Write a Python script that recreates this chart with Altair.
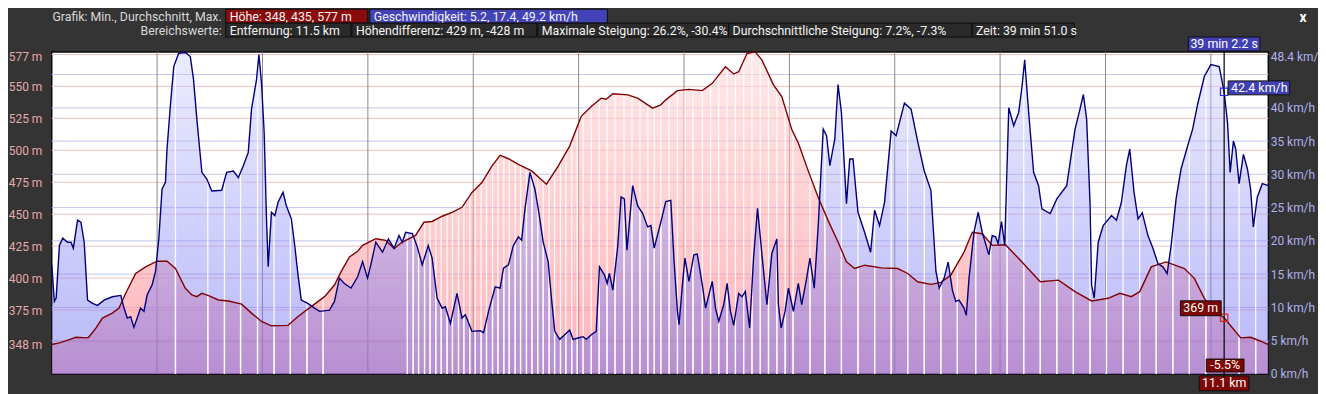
import altair as alt
import numpy as np
import pandas as pd

# ---------------- data ----------------
elev_km = [0.0, 0.073, 0.167, 0.230, 0.325, 0.349, 0.419, 0.481, 0.575, 0.639,
           0.702, 0.796, 0.891, 1.000, 1.094, 1.174, 1.268, 1.330, 1.377, 1.425,
           1.488, 1.582, 1.677, 1.802, 1.896, 1.991, 2.085, 2.242, 2.337, 2.462,
           2.589, 2.683, 2.745, 2.825, 2.903, 2.950, 3.075, 3.170, 3.249, 3.327,
           3.453, 3.532, 3.610, 3.705, 3.799, 3.893, 3.988, 4.082, 4.177, 4.255,
           4.334, 4.428, 4.554, 4.695, 4.806, 4.915, 5.025, 5.120, 5.214, 5.261,
           5.325, 5.466, 5.560, 5.702, 5.780, 5.827, 5.938, 6.047, 6.174, 6.268,
           6.393, 6.472, 6.519, 6.598, 6.676, 6.740, 6.849, 6.928, 7.023, 7.085,
           7.179, 7.274, 7.368, 7.462, 7.542, 7.620, 7.714, 7.872, 8.028, 8.123,
           8.217, 8.343, 8.438, 8.532, 8.658, 8.736, 8.830, 8.925, 9.051, 9.176,
           9.381, 9.554, 9.711, 9.868, 10.025, 10.136, 10.245, 10.325, 10.434, 10.575,
           10.749, 10.843, 10.938, 11.032, 11.126, 11.205, 11.283, 11.377, 11.472, 11.545]
elev_m = [348, 349.3, 351.9, 353.7, 353.2, 353.5, 360.9, 368.7, 372.6, 376.5,
          388.1, 403.6, 408.8, 413.2, 413.2, 407.5, 392, 386.8, 385.5, 388.1,
          386.3, 382.9, 382.1, 379.6, 372.6, 366.1, 362.7, 363, 370, 377.7,
          385.5, 394.6, 404.9, 416.5, 421, 425.6, 430.8, 429.5, 423.1, 428.2,
          433.4, 443.7, 444.3, 448.4, 451.5, 455.4, 467, 474.8, 487.7, 496,
          493.4, 489, 483.9, 473.5, 487.7, 503.3, 526.6, 534.3, 540.8, 540,
          544.2, 543.4, 540.8, 533, 535.6, 539.5, 546.7, 547.7, 546.7, 552.4,
          565.4, 559.7, 561.5, 575.7, 577, 570.6, 551.2, 542.1, 516.2, 505.8,
          483.9, 463.1, 445, 428.2, 412.7, 407.5, 410.1, 408, 407.5, 403.6,
          397.1, 395.1, 396.7, 402.3, 420.4, 435.9, 434.7, 425.6, 426.1, 415.3,
          397.1, 398.4, 389.4, 382.1, 384.2, 388.1, 385.5, 389.4, 408.8, 412.7,
          407.5, 399.8, 384.2, 373.8, 369, 361, 353.2, 353.7, 350.6, 348]

spd_km = [0.000, 0.025, 0.042, 0.073, 0.104, 0.151, 0.183, 0.205, 0.245, 0.277,
          0.308, 0.340, 0.387, 0.434, 0.497, 0.575, 0.655, 0.686, 0.717, 0.749,
          0.780, 0.811, 0.843, 0.875, 0.906, 0.953, 0.985, 1.016, 1.047, 1.079,
          1.094, 1.126, 1.158, 1.205, 1.268, 1.315, 1.346, 1.377, 1.425, 1.472,
          1.519, 1.613, 1.660, 1.724, 1.771, 1.818, 1.865, 1.896, 1.943, 1.966,
          1.991, 2.016, 2.038, 2.054, 2.085, 2.117, 2.148, 2.195, 2.226, 2.274,
          2.306, 2.337, 2.368, 2.431, 2.494, 2.542, 2.636, 2.683, 2.730, 2.777,
          2.840, 2.903, 2.950, 2.997, 3.028, 3.075, 3.139, 3.195, 3.249, 3.296,
          3.327, 3.358, 3.422, 3.469, 3.516, 3.573, 3.610, 3.657, 3.705, 3.736,
          3.783, 3.846, 3.893, 3.925, 3.988, 4.066, 4.098, 4.145, 4.208, 4.255,
          4.287, 4.334, 4.381, 4.428, 4.459, 4.491, 4.538, 4.585, 4.617, 4.664,
          4.711, 4.742, 4.774, 4.821, 4.868, 4.915, 4.947, 4.994, 5.042, 5.073,
          5.120, 5.167, 5.198, 5.245, 5.271, 5.292, 5.325, 5.372, 5.403, 5.434,
          5.459, 5.513, 5.560, 5.608, 5.655, 5.686, 5.717, 5.780, 5.827, 5.875,
          5.906, 5.938, 5.953, 5.985, 6.009, 6.047, 6.094, 6.126, 6.174, 6.205,
          6.268, 6.299, 6.330, 6.377, 6.409, 6.441, 6.472, 6.519, 6.551, 6.582,
          6.623, 6.660, 6.698, 6.740, 6.787, 6.834, 6.881, 6.896, 6.922, 6.959,
          6.991, 7.038, 7.085, 7.117, 7.164, 7.195, 7.236, 7.274, 7.321, 7.353,
          7.384, 7.431, 7.462, 7.494, 7.542, 7.573, 7.604, 7.651, 7.714, 7.771,
          7.809, 7.856, 7.903, 7.966, 8.013, 8.092, 8.155, 8.217, 8.280, 8.343,
          8.391, 8.422, 8.469, 8.507, 8.547, 8.579, 8.610, 8.658, 8.679, 8.705,
          8.752, 8.792, 8.830, 8.893, 8.925, 8.957, 8.981, 9.013, 9.044, 9.082,
          9.129, 9.176, 9.208, 9.233, 9.271, 9.318, 9.365, 9.396, 9.475, 9.538,
          9.632, 9.711, 9.758, 9.790, 9.821, 9.853, 9.868, 9.893, 9.931, 9.978,
          10.057, 10.104, 10.151, 10.198, 10.230, 10.271, 10.309, 10.349, 10.403, 10.450,
          10.497, 10.544, 10.585, 10.623, 10.670, 10.717, 10.780, 10.827, 10.874, 10.938,
          11.000, 11.079, 11.126, 11.158, 11.183, 11.214, 11.236, 11.268, 11.309, 11.347,
          11.377, 11.403, 11.441, 11.488, 11.545]
spd_kmh = [16.4, 10.9, 11.4, 19.3, 20.4, 19.8, 19.8, 18.9, 23.1, 22.8,
           19.8, 11.1, 10.6, 10.3, 11.1, 11.6, 11.8, 9.9, 8.4, 8.6,
           7.0, 8.4, 9.9, 9.4, 11.9, 13.4, 15.4, 20.3, 27.8, 28.8,
           33.8, 40.3, 46.2, 48.2, 48.3, 47.7, 44.2, 38.3, 30.3, 29.3,
           27.5, 27.6, 30.3, 30.5, 29.5, 31.3, 33.3, 39.8, 44.2, 48.0,
           43.7, 36.3, 23.3, 16.1, 24.3, 23.8, 25.8, 27.3, 25.3, 23.3,
           19.3, 14.9, 11.1, 10.6, 9.9, 9.4, 9.6, 10.9, 14.4, 13.6,
           12.9, 14.6, 16.9, 14.4, 16.4, 19.8, 18.3, 20.3, 18.9, 20.8,
           19.8, 21.3, 21.1, 19.1, 16.4, 19.3, 17.4, 11.4, 9.9, 10.1,
           7.6, 12.1, 8.4, 8.9, 6.4, 6.5, 6.2, 9.4, 13.1, 12.9,
           15.9, 16.4, 19.3, 20.6, 20.1, 24.8, 30.3, 27.8, 24.8, 19.8,
           16.9, 11.4, 6.4, 5.2, 5.9, 6.6, 5.2, 5.4, 5.6, 5.2,
           5.9, 6.4, 16.1, 14.9, 13.6, 15.1, 12.6, 19.3, 26.6, 26.3,
           18.6, 28.3, 25.3, 24.1, 22.1, 22.3, 18.9, 22.8, 25.9, 26.1,
           16.9, 9.4, 7.4, 13.4, 17.4, 13.9, 17.9, 18.0, 13.4, 9.9,
           13.9, 9.9, 7.9, 10.4, 13.6, 9.4, 7.3, 12.1, 11.6, 12.4,
           6.9, 17.4, 24.9, 17.9, 10.4, 18.1, 20.3, 10.4, 6.9, 9.4,
           12.9, 9.4, 13.6, 10.4, 14.4, 17.4, 12.9, 22.3, 36.8, 35.8,
           31.3, 35.3, 43.5, 39.3, 25.6, 32.3, 32.3, 24.3, 21.3, 18.3,
           24.6, 22.3, 25.8, 36.5, 35.8, 40.7, 39.8, 35.0, 30.5, 27.6,
           15.4, 12.9, 14.4, 16.8, 12.6, 10.9, 11.1, 9.9, 8.8, 14.4,
           21.3, 24.3, 21.3, 17.9, 20.8, 20.6, 19.6, 22.9, 19.3, 40.0,
           37.3, 39.3, 43.2, 47.2, 39.3, 30.3, 28.3, 24.8, 24.1, 26.3,
           28.3, 36.8, 39.8, 42.0, 38.3, 25.8, 13.4, 11.4, 19.8, 22.3,
           23.8, 23.1, 25.8, 31.3, 33.8, 27.3, 23.3, 24.2, 20.8, 18.9,
           16.6, 16.1, 15.1, 19.3, 26.3, 30.8, 34.3, 36.8, 40.5, 44.7,
           46.5, 46.2, 42.4, 37.8, 30.3, 35.0, 33.8, 28.6, 33.0, 30.8,
           27.8, 22.1, 26.6, 28.6, 28.3]

# segment boundaries (white stripes)
white_km = [1.174, 1.481, 1.639, 1.792, 1.953, 2.110, 2.264, 2.422, 2.575,
            3.375, 3.430, 3.481, 3.538, 3.590, 3.645, 3.696, 3.752, 3.803, 3.860,
            3.911, 3.967, 4.019, 4.075, 4.126, 4.183, 4.234, 4.290, 4.341, 4.398,
            4.449, 4.505, 4.557, 4.612, 4.664, 4.720, 4.772, 4.828, 4.879, 4.935,
            4.987, 5.043,
            5.120, 5.195, 5.270, 5.346, 5.431, 5.506, 5.582, 5.657, 5.718, 5.780,
            5.859, 5.938, 6.011, 6.085, 6.174, 6.252, 6.330, 6.409, 6.488, 6.566,
            6.645, 6.724, 6.802, 6.881, 6.960, 7.035,
            7.196, 7.337, 7.494, 7.651, 7.809, 7.966, 8.123, 8.280, 8.438, 8.594,
            8.768, 8.910, 9.066, 9.224, 9.381, 9.538, 9.695, 9.853, 10.009, 10.167,
            10.325, 10.481, 10.639, 10.796, 10.953, 11.268, 11.425]

km_grid = [1, 2, 3, 4, 5, 6, 7, 8, 9, 10, 11]
km_ticks = [1, 2, 3, 4, 5, 6, 7, 8, 9, 10]
elev_grid = [350, 375, 400, 425, 450, 475, 500, 525, 550, 575]
elev_ticks = [348, 375, 400, 425, 450, 475, 500, 525, 550, 577]
spd_grid = [5, 10, 15, 20, 25, 30, 35, 40, 45]
spd_ticks = [0, 5, 10, 15, 20, 25, 30, 35, 40, 48.4]

cursor_km = 11.126
cursor_spd = 42.4
cursor_elev = 369
cursor_time = "39 min 2.2 s"
cursor_spd_txt = "42.4 km/h"
cursor_elev_txt = "369 m"
cursor_grad_txt = "-5.5%"
cursor_km_txt = "11.1 km"

hdr1_label = "Grafik: Min., Durchschnitt, Max."
hdr1_boxes = ["Höhe: 348, 435, 577 m", "Geschwindigkeit: 5.2, 17.4, 49.2 km/h"]
hdr2_label = "Bereichswerte:"
hdr2_boxes = ["Entfernung: 11.5 km", "Höhendifferenz: 429 m, -428 m",
              "Maximale Steigung: 26.2%, -30.4%",
              "Durchschnittliche Steigung: 7.2%, -7.3%", "Zeit: 39 min 51.0 s"]

# ---------------- chart ----------------
W, H = 1224, 324
FONT = "Roboto"
ELEV_MIN, ELEV_MAX = 325, 577
xs = alt.Scale(domain=[0, 11.545], nice=False, zero=False)
es = alt.Scale(domain=[ELEV_MIN, ELEV_MAX], nice=False, zero=False)
ss = alt.Scale(domain=[0, 48.4], nice=False, zero=False)

elev_df = pd.DataFrame({"km": elev_km, "elev": elev_m})
elev_df["base"] = ELEV_MIN
spd_df = pd.DataFrame({"km": spd_km, "spd": spd_kmh})
spd_df["base"] = 0
white_df = pd.DataFrame({
    "km": white_km,
    "elev": np.interp(white_km, elev_km, elev_m),
    "spd": np.interp(white_km, spd_km, spd_kmh),
})
cur_df = pd.DataFrame({"km": [cursor_km], "spd": [cursor_spd], "elev": [cursor_elev]})

X = alt.X("km:Q", scale=xs, axis=None)

x_axis = alt.Axis(values=km_ticks, labelExpr="datum.value + ' km'", ticks=False,
                  domain=False, grid=False, title=None, labelColor="#c8c8c8",
                  labelFont=FONT, labelFontSize=12, labelPadding=4,
                  labelOverlap=False, labelFlush=False)
left_axis = alt.Axis(orient="left", values=elev_ticks, labelExpr="datum.value + ' m'",
                     ticks=False, domain=False, grid=False, title=None,
                     labelColor="#e6a9a9", labelFont=FONT, labelFontSize=12,
                     labelPadding=10, labelOverlap=False, labelFlush=False,
                     labelBaseline={"condition": {"test": "datum.value >= 577", "value": "top"},
                                    "value": "middle"})
right_axis = alt.Axis(orient="right", values=spd_ticks, labelExpr="datum.value + ' km/h'",
                      ticks=False, domain=False, grid=False, title=None,
                      labelColor="#b0b0ea", labelFont=FONT, labelFontSize=12,
                      labelPadding=2, labelOverlap=False, labelFlush=False,
                      labelBaseline={"condition": {"test": "datum.value >= 48", "value": "top"},
                                     "value": "middle"})

pink_grad = alt.LinearGradient(gradient="linear", x1=0, y1=0, x2=0, y2=1,
                               stops=[alt.GradientStop(color="#ffd8d8", offset=0),
                                      alt.GradientStop(color="#ff7680", offset=1)])
blue_grad = alt.LinearGradient(gradient="linear", x1=0, y1=0, x2=0, y2=1,
                               stops=[alt.GradientStop(color="#d5d5ff", offset=0),
                                      alt.GradientStop(color="#6161ef", offset=1)])

layers = []
# horizontal grid
layers.append(alt.Chart(pd.DataFrame({"v": elev_grid})).mark_rule(color="#f2c0c0", strokeWidth=1)
              .encode(y=alt.Y("v:Q", scale=es, axis=None), x=alt.value(0), x2=alt.value(W)))
layers.append(alt.Chart(pd.DataFrame({"v": spd_grid})).mark_rule(color="#c4c4f0", strokeWidth=1)
              .encode(y=alt.Y("v:Q", scale=ss, axis=None), x=alt.value(0), x2=alt.value(W)))
# vertical km grid (with the x axis)
layers.append(alt.Chart(pd.DataFrame({"km": km_grid})).mark_rule(color="#8a8a8a", strokeWidth=1)
              .encode(x=alt.X("km:Q", scale=xs, axis=x_axis)))
# areas
layers.append(alt.Chart(elev_df).mark_area(fill=pink_grad, fillOpacity=0.55, clip=True)
              .encode(x=X, y=alt.Y("elev:Q", scale=es, axis=left_axis), y2=alt.Y2("base")))
layers.append(alt.Chart(spd_df).mark_area(fill=blue_grad, fillOpacity=0.45, clip=True)
              .encode(x=X, y=alt.Y("spd:Q", scale=ss, axis=right_axis), y2=alt.Y2("base")))
# white segment stripes
layers.append(alt.Chart(white_df).mark_rule(color="white", strokeWidth=1.3, opacity=0.9)
              .encode(x=X, y=alt.Y("elev:Q", scale=es, axis=None), y2=alt.value(H)))
layers.append(alt.Chart(white_df).mark_rule(color="white", strokeWidth=1.3, opacity=0.9)
              .encode(x=X, y=alt.Y("spd:Q", scale=ss, axis=None), y2=alt.value(H)))
# lines
layers.append(alt.Chart(elev_df).mark_line(color="#800000", strokeWidth=1.4)
              .encode(x=X, y=alt.Y("elev:Q", scale=es, axis=None)))
layers.append(alt.Chart(spd_df).mark_line(color="#00007a", strokeWidth=1.4)
              .encode(x=X, y=alt.Y("spd:Q", scale=ss, axis=None)))
# cursor
layers.append(alt.Chart(cur_df).mark_rule(color="#000000", strokeWidth=1.2)
              .encode(x=X, y=alt.value(-2), y2=alt.value(H + 3)))
layers.append(alt.Chart(cur_df).mark_point(shape="square", filled=False, size=55,
                                           strokeWidth=1.2, color="#2a2ad8", opacity=1)
              .encode(x=X, y=alt.Y("spd:Q", scale=ss, axis=None)))
layers.append(alt.Chart(cur_df).mark_point(shape="square", filled=False, size=55,
                                           strokeWidth=1.2, color="#e02020", opacity=1)
              .encode(x=X, y=alt.Y("elev:Q", scale=es, axis=None)))

BLUE = "#4040b4"
RED = "#7e0606"
BOX_FS = 12.5


def cursor_box(text, x_off0, x_off1, fill, y=None, y2=None, ych=None, yo0=0, yo1=0, tdx=0, align="center"):
    df = pd.DataFrame({"km": [cursor_km], "spd": [cursor_spd], "elev": [cursor_elev], "t": [text]})
    base = alt.Chart(df)
    if ych is None:
        rect = base.mark_rect(fill=fill, stroke="#101010", strokeWidth=1,
                              xOffset=x_off0, x2Offset=x_off1).encode(
            x=X, x2=alt.X2("km"), y=alt.value(y), y2=alt.value(y2))
        txt = base.mark_text(font=FONT, fontSize=BOX_FS, color="#ffffff", align=align,
                             baseline="middle", dx=tdx).encode(
            x=X, y=alt.value((y + y2) / 2), text="t:N")
    else:
        field, sc = ych
        rect = base.mark_rect(fill=fill, stroke="#101010", strokeWidth=1,
                              xOffset=x_off0, x2Offset=x_off1,
                              yOffset=yo0, y2Offset=yo1).encode(
            x=X, x2=alt.X2("km"), y=alt.Y(f"{field}:Q", scale=sc, axis=None),
            y2=alt.Y2(field))
        txt = base.mark_text(font=FONT, fontSize=BOX_FS, color="#ffffff", align=align,
                             baseline="middle", dx=tdx, dy=(yo0 + yo1) / 2).encode(
            x=X, y=alt.Y(f"{field}:Q", scale=sc, axis=None), text="t:N")
    return [rect, txt]


layers += cursor_box(cursor_time, -36, 36, BLUE, y=-15, y2=-1)
layers += cursor_box(cursor_spd_txt, 4, 66, BLUE, ych=("spd", ss), yo0=-11, yo1=3, tdx=7, align="left")
layers += cursor_box(cursor_elev_txt, -44, -3, RED, ych=("elev", es), yo0=-17, yo1=-2, tdx=-23.5)
layers += cursor_box(cursor_grad_txt, -18, 20, RED, y=309, y2=322, tdx=1)
layers += cursor_box(cursor_km_txt, -25, 25, RED, y=326, y2=341)

HDR_FS = 12.4


def hdr_box(text, x0, x1, y0, y1, fill):
    df = pd.DataFrame({"t": [text]})
    rect = alt.Chart(df).mark_rect(fill=fill, stroke="#0c0c0c", strokeWidth=1).encode(
        x=alt.value(x0), x2=alt.value(x1), y=alt.value(y0), y2=alt.value(y1))
    txt = alt.Chart(df).mark_text(font=FONT, fontSize=HDR_FS, color="#f2f2f2", align="left",
                                  baseline="middle").encode(
        x=alt.value(x0 + 4), y=alt.value((y0 + y1) / 2 + 0.5), text="t:N")
    return [rect, txt]


def hdr_label(text, xr, y):
    df = pd.DataFrame({"t": [text]})
    return [alt.Chart(df).mark_text(font=FONT, fontSize=HDR_FS, color="#d8d8d8", align="right",
                                    baseline="middle").encode(
        x=alt.value(xr), y=alt.value(y + 0.5), text="t:N")]


R1 = (-43, -29)
R2 = (-29, -15)
layers += hdr_label(hdr1_label, 171, sum(R1) / 2)
layers += hdr_box(hdr1_boxes[0], 175, 318, R1[0], R1[1], "#880c0c")
layers += hdr_box(hdr1_boxes[1], 320, 559, R1[0], R1[1], "#4343b8")
layers += hdr_label(hdr2_label, 171, sum(R2) / 2)
b2 = [(175, 301), (302, 488), (489, 681), (681, 926), (926, 1029)]
for t, (a, b) in zip(hdr2_boxes, b2):
    layers += hdr_box(t, a, b, R2[0], R2[1], "#2a2a2a")
layers.append(alt.Chart(pd.DataFrame({"t": ["x"]})).mark_text(
    font=FONT, fontSize=14, fontWeight="bold", color="#ffffff", align="center",
    baseline="middle").encode(x=alt.value(1259), y=alt.value(-34), text="t:N"))

chart = (alt.layer(*layers)
         .resolve_scale(y="independent")
         .properties(width=W, height=H,
                     padding={"left": 44, "top": 43, "right": 50, "bottom": 19},
                     autosize=alt.AutoSizeParams(type="none"),
                     background="#343434")
         .configure_view(fill="#ffffff", stroke="#0a0a0a", strokeWidth=1.5))

chart.save("out.html", embed_options={"renderer": "svg", "actions": False})
